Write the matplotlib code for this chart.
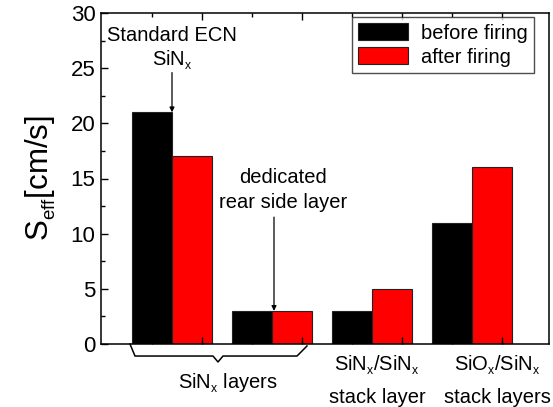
import numpy as np
import matplotlib.pyplot as plt
import matplotlib._mathtext as mathtext_internal
from matplotlib.ticker import FixedLocator, MultipleLocator

plt.rcParams['font.family'] = ['Liberation Sans', 'DejaVu Sans']
plt.rcParams['mathtext.fontset'] = 'custom'
plt.rcParams['mathtext.rm'] = 'Liberation Sans'
plt.rcParams['mathtext.it'] = 'Liberation Sans'
# smaller, lower subscripts like the original
mathtext_internal.SHRINK_FACTOR = 0.6
mathtext_internal.FontConstantsBase.sub1 = 0.45
mathtext_internal.FontConstantsBase.sub2 = 0.6

# Data
groups = [1, 2, 3, 4]
before = [21, 3, 3, 11]
after = [17, 3, 5, 16]
series_labels = ['before firing', 'after firing']
X = '$_\\mathregular{x}$'
group_lines = [None, None,
               ('SiN' + X + '/SiN' + X, 'stack layer'),
               ('SiO' + X + '/SiN' + X, 'stack layers')]

# brace under the first two groups (data coords)
brace_x = [0.58, 0.63, 1.41, 1.46, 1.51, 2.25, 2.35]
brace_y = [0, -1.09, -1.09, -1.63, -1.09, -1.09, -0.18]

fig = plt.figure(figsize=(5.53, 4.07), dpi=100)
ax = fig.add_axes([101 / 553, 1 - 344 / 407, 448 / 553, 331 / 407])

x = np.array(groups, dtype=float)
w = 0.4
ax.bar(x - w / 2, before, w, color='black', edgecolor='#222222', linewidth=0.8, label=series_labels[0])
ax.bar(x + w / 2, after, w, color='#ff0000', edgecolor='#222222', linewidth=0.8, label=series_labels[1])

ax.set_xlim(0.29, 4.77)
ax.set_ylim(0, 30)
ax.xaxis.set_major_locator(FixedLocator([1.3, 2.3, 3.3, 4.3]))
ax.xaxis.set_minor_locator(FixedLocator([0.8, 1.8, 2.8, 3.8]))
ax.yaxis.set_major_locator(MultipleLocator(5))
ax.yaxis.set_minor_locator(MultipleLocator(2.5))
ax.tick_params(which='both', direction='in', top=True, right=False, labelbottom=False)
ax.tick_params(which='major', length=5, width=1, labelsize=16, pad=4)
ax.tick_params(which='minor', length=3, width=1)
for s in ax.spines.values():
    s.set_linewidth(1.1)

ax.set_ylabel('S$_\\mathregular{eff}$[cm/s]', fontsize=22.5, labelpad=9)

ax.legend(loc='upper right', bbox_to_anchor=(0.9665, 0.988), borderaxespad=0,
          fontsize=14.5, frameon=True, fancybox=False, edgecolor='#222222',
          handlelength=2.5, handleheight=0.95, labelspacing=0.22,
          handletextpad=0.65, borderpad=0.3)

fs = 14.5
# annotations
ax.text(1.0, 27.47, 'Standard ECN', ha='center', va='baseline', fontsize=fs)
ax.text(1.0, 25.3, 'SiN' + X, ha='center', va='baseline', fontsize=fs)
ax.annotate('', xy=(1.0, 21), xytext=(1.0, 24.6),
            arrowprops=dict(arrowstyle='-|>', color='black', lw=0.9,
                            mutation_scale=7, shrinkA=0, shrinkB=0))
ax.text(2.11, 14.6, 'dedicated', ha='center', va='baseline', fontsize=fs)
ax.text(2.11, 12.33, 'rear side layer', ha='center', va='baseline', fontsize=fs)
ax.annotate('', xy=(2.02, 3), xytext=(2.02, 11.5),
            arrowprops=dict(arrowstyle='-|>', color='black', lw=0.9,
                            mutation_scale=7, shrinkA=0, shrinkB=0))

ax.plot(brace_x, brace_y, color='black', lw=1.1, clip_on=False)
ax.text(1.56, -3.99, 'SiN' + X + ' layers', ha='center', va='baseline', fontsize=fs)

for xi, lines in zip([1.0, 2.0, 3.05, 4.25], group_lines):
    if lines:
        ax.text(xi, -2.36, lines[0], ha='center', va='baseline', fontsize=fs)
        ax.text(xi, -5.35, lines[1], ha='center', va='baseline', fontsize=fs)

fig.savefig('out.png', dpi=100)
